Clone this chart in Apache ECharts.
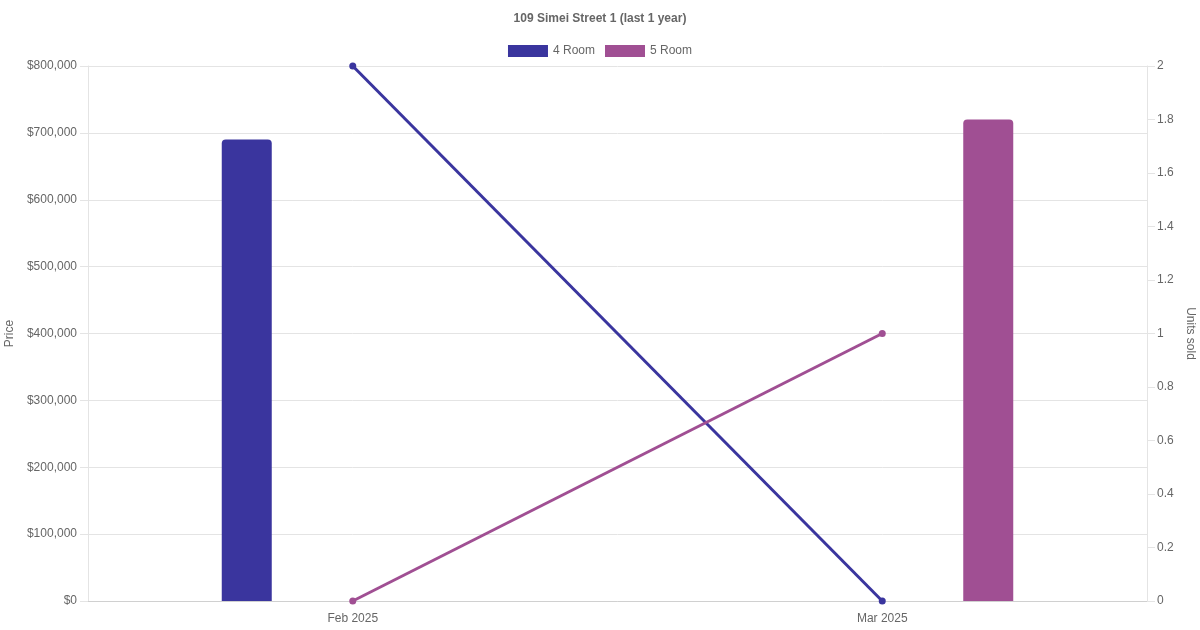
<!DOCTYPE html>
<html>
<head>
<meta charset="utf-8">
<script src="https://cdn.jsdelivr.net/npm/echarts@6/dist/echarts.min.js"></script>
<style>html,body{margin:0;padding:0;background:#fff}#c{width:1200px;height:630px}</style>
</head>
<body>
<div id="c"></div>
<script>
const categories = ['Feb 2025', 'Mar 2025'];
const price4Room = [690000, null];
const price5Room = [null, 720000];
const units4Room = [2, 0];
const units5Room = [0, 1];
const seriesNames = ['4 Room', '5 Room'];
const colors = ['#3a359e', '#a04f93'];

const chart = echarts.init(document.getElementById('c'));
const font = 'Liberation Sans, Arial, sans-serif';
const txt = '#666';
chart.setOption({
  animation: false,
  textStyle: { fontFamily: font },
  title: {
    text: '109 Simei Street 1 (last 1 year)',
    left: 'center', top: 8,
    textStyle: { fontFamily: font, fontSize: 12, fontWeight: 'bold', color: txt }
  },
  legend: {
    data: seriesNames,
    top: 40, left: 'center',
    icon: 'rect', itemWidth: 40, itemHeight: 12, itemGap: 10,
    textStyle: { fontFamily: font, fontSize: 12, color: txt }
  },
  grid: { left: 88, right: 53, top: 66, bottom: 29, containLabel: false, outerBoundsMode: 'none' },
  xAxis: {
    type: 'category', data: categories,
    axisLine: { show: true, lineStyle: { color: '#d0d0d0' } },
    axisTick: { show: false },
    axisLabel: { color: txt, fontSize: 12, margin: 12, fontFamily: font },
    splitLine: { show: false }
  },
  yAxis: [{
    type: 'value', min: 0, max: 800000, interval: 100000,
    name: 'Price', nameLocation: 'middle', nameGap: 70, nameRotate: 90,
    nameTextStyle: { color: txt, fontSize: 12, fontFamily: font },
    axisLine: { show: true, lineStyle: { color: '#e4e4e4' } },
    axisTick: { show: true, length: 8, lineStyle: { color: '#e4e4e4' } },
    axisLabel: { color: txt, fontSize: 12, margin: 11, fontFamily: font,
      formatter: v => '$' + v.toLocaleString('en-US') },
    splitLine: { show: true, lineStyle: { color: '#e4e4e4' } }
  }, {
    type: 'value', min: 0, max: 2, interval: 0.2,
    name: 'Units sold', nameLocation: 'middle', nameGap: 35, nameRotate: -90,
    nameTextStyle: { color: txt, fontSize: 12, fontFamily: font },
    axisLine: { show: true, lineStyle: { color: '#e4e4e4' } },
    axisTick: { show: true, length: 8, lineStyle: { color: '#e4e4e4' } },
    axisLabel: { color: txt, fontSize: 12, margin: 10, fontFamily: font,
      formatter: v => String(Math.round(v * 10) / 10) },
    splitLine: { show: false }
  }],
  series: [
    { name: seriesNames[0], type: 'bar', data: price4Room, barWidth: 50, barGap: '324%',
      itemStyle: { color: colors[0], borderRadius: [4, 4, 0, 0] }, z: 2 },
    { name: seriesNames[1], type: 'bar', data: price5Room, barWidth: 50, barGap: '324%',
      itemStyle: { color: colors[1], borderRadius: [4, 4, 0, 0] }, z: 2 },
    { name: seriesNames[0], type: 'line', yAxisIndex: 1, data: units4Room,
      symbol: 'circle', symbolSize: 7, lineStyle: { width: 3, color: colors[0] },
      itemStyle: { color: colors[0] }, z: 3 },
    { name: seriesNames[1], type: 'line', yAxisIndex: 1, data: units5Room,
      symbol: 'circle', symbolSize: 7, lineStyle: { width: 3, color: colors[1] },
      itemStyle: { color: colors[1] }, z: 3 }
  ]
});
</script>
</body>
</html>
